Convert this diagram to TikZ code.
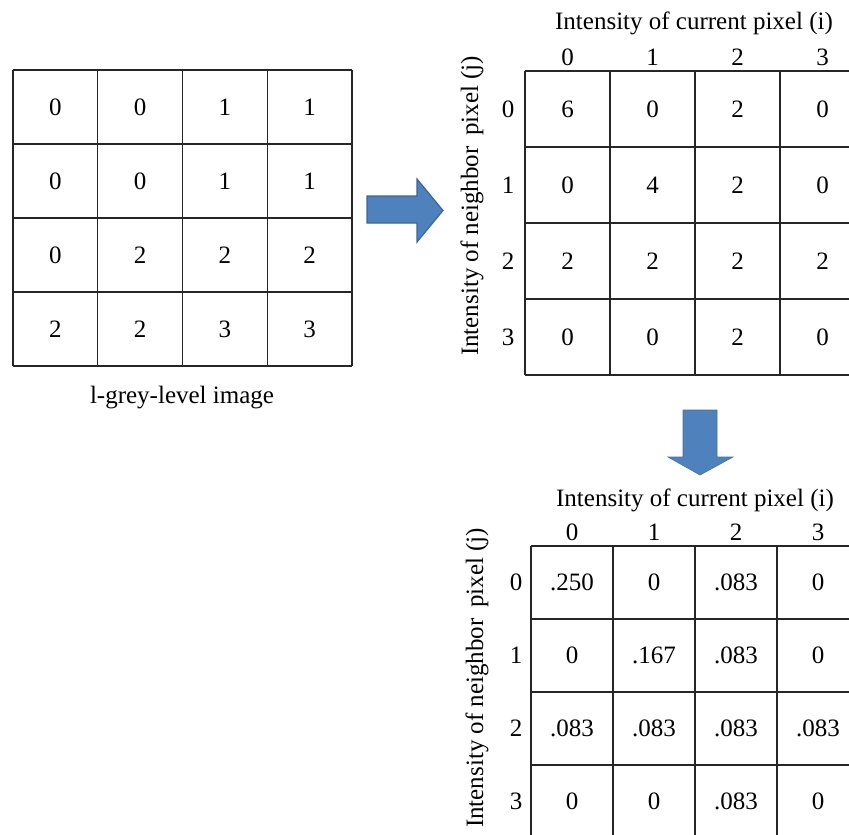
\documentclass[tikz,border=0pt]{standalone}
\usepackage{fontspec}
\setmainfont{Liberation Serif}
\definecolor{arrowblue}{HTML}{4F81BD}
\definecolor{arrowedge}{HTML}{3A6796}
\begin{document}
\begin{tikzpicture}[x=1pt,y=-1pt,
  txt/.style={font=\fontsize{25}{30}\selectfont, inner sep=0pt},
  gridline/.style={line width=1.3pt, draw=black!85},
  blockarrow/.style={fill=arrowblue, draw=arrowedge, line width=1.2pt, line join=miter}]
\useasboundingbox (0,0) rectangle (849,835);
\clip (0,0) rectangle (849,835);

% ---- grey-level image (4x4) ----
\foreach \i in {0,...,4} {
  \draw[gridline] ({13+84.75*\i},70) -- ({13+84.75*\i},366);
  \draw[gridline] (13,{70+74*\i}) -- (352,{70+74*\i});
}
\foreach [count=\r from 0] \rowvals in {{0,0,1,1},{0,0,1,1},{0,2,2,2},{2,2,3,3}} {
  \foreach [count=\c from 0] \v in \rowvals {
    \node[txt] (img-\r-\c) at ({13+84.75*(\c+0.5)},{70+74*(\r+0.5)}) {\v};
  }
}
\node[txt] (imgcap) at (182,398) {l-grey-level image};

% ---- co-occurrence counts ----
\foreach \i in {0,...,4} {
  \draw[gridline] ({525+85*\i},71) -- ({525+85*\i},375);
  \draw[gridline] (525,{71+76*\i}) -- (865,{71+76*\i});
}
\foreach [count=\r from 0] \rowvals in {{6,0,2,0},{0,4,2,0},{2,2,2,2},{0,0,2,0}} {
  \foreach [count=\c from 0] \v in \rowvals {
    \node[txt] (cnt-\r-\c) at ({525+85*(\c+0.5)},{71+76*(\r+0.5)}) {\v};
  }
}
\foreach \k in {0,...,3} {
  \node[txt] (cntcol-\k) at ({525+85*(\k+0.5)},57) {\k};
  \node[txt] (cntrow-\k) at (508,{71+76*(\k+0.5)}) {\k};
}
\node[txt] (cnttitle) at (694,23) {Intensity of current pixel (i)};
\node[txt, rotate=90] (cntside) at (472,206) {Intensity of neighbor\, pixel (j)};

% ---- normalised probabilities ----
\foreach \i in {0,...,4} {
  \draw[gridline] ({531+82*\i},546) -- ({531+82*\i},838);
  \draw[gridline] (531,{546+73*\i}) -- (859,{546+73*\i});
}
\foreach [count=\r from 0] \rowvals in {{.250,0,.083,0},{0,.167,.083,0},{.083,.083,.083,.083},{0,0,.083,0}} {
  \foreach [count=\c from 0] \v in \rowvals {
    \node[txt] (prb-\r-\c) at ({531+82*(\c+0.5)},{546+73*(\r+0.5)}) {\v};
  }
}
\foreach \k in {0,...,3} {
  \node[txt] (prbcol-\k) at ({531+82*(\k+0.5)},532) {\k};
  \node[txt] (prbrow-\k) at (516,{546+73*(\k+0.5)}) {\k};
}
\node[txt] (prbtitle) at (695,500) {Intensity of current pixel (i)};
\node[txt, rotate=90] (prbside) at (477,678) {Intensity of neighbor\, pixel (j)};

% ---- block arrows ----
\draw[blockarrow] (367,196) -- (417,196) -- (417,179) -- (443,210.5)
  -- (417,242) -- (417,223) -- (367,223) -- cycle;
\draw[blockarrow, draw=arrowblue!85!black, line width=0.6pt]
  (683,410) -- (717,410) -- (717,457) -- (733,457) -- (700,475)
  -- (668,457) -- (683,457) -- cycle;
\end{tikzpicture}
\end{document}
